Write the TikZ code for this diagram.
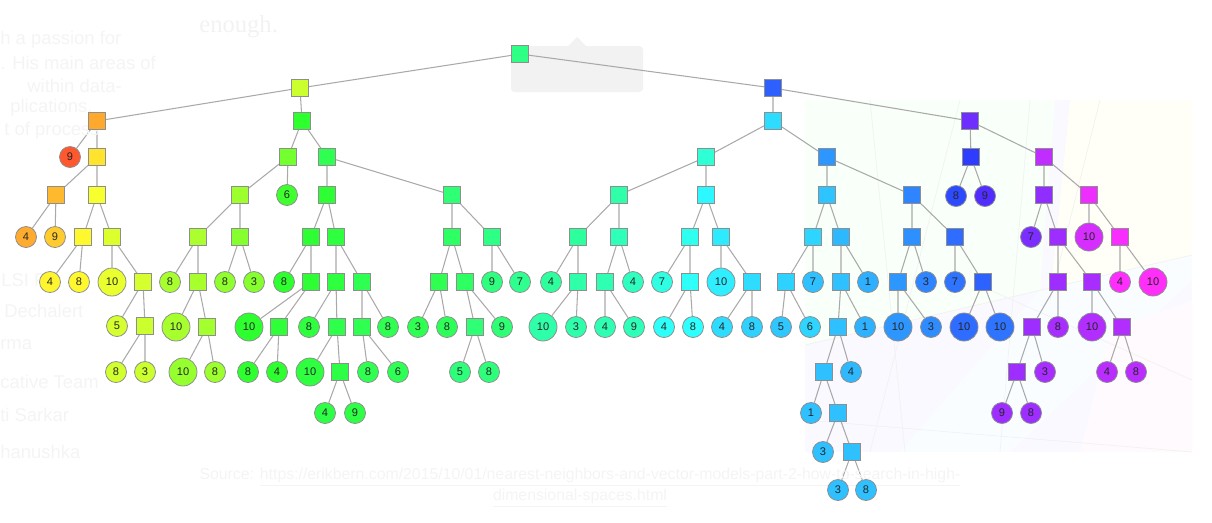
\documentclass[tikz,border=0pt]{standalone}
\usepackage{fontspec}
\setmainfont{Liberation Sans}
\newfontfamily\serifface{Liberation Serif}
\usepackage{xcolor}
\definecolor{edgegray}{HTML}{A9A9A9}
\definecolor{rimgray}{HTML}{8E8E8E}
\definecolor{ghostgray}{HTML}{F4F4F4}
\usetikzlibrary{positioning,backgrounds}

\begin{document}
\begin{tikzpicture}[
  x=0.02cm,y=-0.02cm,
  font=\fontsize{6.3}{7}\selectfont,
  tint/.code={\definecolor{tinth}{Hsb}{#1,0.82,1}\colorlet{tintc}[rgb]{tinth}\pgfkeysalso{fill=tintc}},
  split/.style={draw=rimgray,line width=0.45pt,rectangle,minimum size=0.34cm,inner sep=0pt},
  leaf/.style={draw=rimgray,line width=0.45pt,circle,minimum size=0.42cm,inner sep=0pt,text=black!85},
  big/.style={leaf,minimum size=0.56cm},
  edge/.style={draw=edgegray,line width=0.6pt},
  ghost/.style={text=ghostgray,anchor=west,inner sep=0pt,font=\fontsize{10.5}{12}\selectfont}
]
\useasboundingbox (0,0) rectangle (1212,522);

% faint page behind the tree
\node[ghost] (g1) at (0,40) {h a passion for};
\node[ghost] (g2) at (0,63) {. His main areas of};
\node[ghost] (g3) at (27,86) {within data-};
\node[ghost] (g4) at (10,108) {plications,};
\node[ghost] (g5) at (4,131) {t of process};
\node[ghost] (g6) at (1,280) {LSI FO};
\node[ghost] (g7) at (4,311) {Dechalert};
\node[ghost] (g8) at (0,345) {rma};
\node[ghost] (g9) at (0,382) {cative Team};
\node[ghost] (g10) at (0,415) {ti Sarkar};
\node[ghost] (g11) at (0,452) {hanushka};
\node[ghost,text=black!5,font=\serifface\fontsize{14}{16}\selectfont] (enough) at (199,27) {enough.};
\node[text=ghostgray,font=\fontsize{9}{10}\selectfont,inner sep=0pt] (src1) at (580,477) {Source: \underline{https://erikbern.com/2015/10/01/nearest-neighbors-and-vector-models-part-2-how-to-search-in-high-}};
\node[text=ghostgray,font=\fontsize{9}{10}\selectfont,inner sep=0pt] (src2) at (580,498) {\underline{dimensional-spaces.html}};

% splits
\node[split,tint=145] (s1) at (520,54) {};
\node[split,tint=75] (s2) at (300,88) {};
\node[split,tint=226] (s3) at (773,88) {};
\node[split,tint=35] (s4) at (97,121) {};
\node[split,tint=120] (s5) at (302,121) {};
\node[split,tint=190] (s6) at (773,121) {};
\node[split,tint=258] (s7) at (970,121) {};
\node[split,tint=52] (s8) at (97,157) {};
\node[split,tint=40] (s9) at (56,195) {};
\node[split,tint=62] (s10) at (97,195) {};
\node[split,tint=58] (s11) at (83,237) {};
\node[split,tint=70] (s12) at (112,237) {};
\node[split,tint=72] (s13) at (143,282) {};
\node[split,tint=75] (s14) at (145,326) {};
\node[split,tint=100] (s15) at (288,157) {};
\node[split,tint=130] (s16) at (327,157) {};
\node[split,tint=88] (s17) at (240,195) {};
\node[split,tint=84] (s18) at (198,237) {};
\node[split,tint=95] (s19) at (240,237) {};
\node[split,tint=85] (s20) at (198,282) {};
\node[split,tint=86] (s21) at (207,327) {};
\node[split,tint=122] (s22) at (327,195) {};
\node[split,tint=140] (s23) at (452,195) {};
\node[split,tint=122] (s24) at (311,237) {};
\node[split,tint=125] (s25) at (336,237) {};
\node[split,tint=122] (s26) at (311,282) {};
\node[split,tint=123] (s27) at (279,327) {};
\node[split,tint=125] (s28) at (336,282) {};
\node[split,tint=130] (s29) at (362,282) {};
\node[split,tint=128] (s30) at (337,327) {};
\node[split,tint=127] (s31) at (340,372) {};
\node[split,tint=130] (s32) at (362,327) {};
\node[split,tint=135] (s33) at (452,237) {};
\node[split,tint=145] (s34) at (492,237) {};
\node[split,tint=130] (s35) at (439,282) {};
\node[split,tint=135] (s36) at (465,282) {};
\node[split,tint=140] (s37) at (475,327) {};
\node[split,tint=168] (s38) at (706,157) {};
\node[split,tint=210] (s39) at (827,157) {};
\node[split,tint=155] (s40) at (619,195) {};
\node[split,tint=182] (s41) at (706,195) {};
\node[split,tint=152] (s42) at (578,237) {};
\node[split,tint=160] (s43) at (619,237) {};
\node[split,tint=155] (s44) at (578,282) {};
\node[split,tint=158] (s45) at (605,282) {};
\node[split,tint=175] (s46) at (690,237) {};
\node[split,tint=186] (s47) at (721,237) {};
\node[split,tint=178] (s48) at (690,282) {};
\node[split,tint=190] (s49) at (752,282) {};
\node[split,tint=197] (s50) at (827,195) {};
\node[split,tint=215] (s51) at (912,195) {};
\node[split,tint=192] (s52) at (813,237) {};
\node[split,tint=200] (s53) at (841,237) {};
\node[split,tint=193] (s54) at (786,282) {};
\node[split,tint=198] (s55) at (841,282) {};
\node[split,tint=198] (s56) at (838,327) {};
\node[split,tint=198] (s57) at (824,372) {};
\node[split,tint=198] (s58) at (838,413) {};
\node[split,tint=198] (s59) at (852,452) {};
\node[split,tint=212] (s60) at (912,237) {};
\node[split,tint=222] (s61) at (955,237) {};
\node[split,tint=210] (s62) at (898,282) {};
\node[split,tint=225] (s63) at (983,282) {};
\node[split,tint=236] (s64) at (971,157) {};
\node[split,tint=282] (s65) at (1044,157) {};
\node[split,tint=268] (s66) at (1044,195) {};
\node[split,tint=295] (s67) at (1089,195) {};
\node[split,tint=272] (s68) at (1058,237) {};
\node[split,tint=272] (s69) at (1058,282) {};
\node[split,tint=275] (s70) at (1092,282) {};
\node[split,tint=272] (s71) at (1032,327) {};
\node[split,tint=272] (s72) at (1017,372) {};
\node[split,tint=278] (s73) at (1122,327) {};
\node[split,tint=298] (s74) at (1120,237) {};

% leaves
\node[leaf,tint=12] (l4a) at (70,157) {9};
\node[leaf,tint=36] (l9a) at (26,237) {4};
\node[leaf,tint=45] (l9b) at (55,237) {9};
\node[leaf,tint=57] (l11a) at (50,282) {4};
\node[leaf,tint=58] (l11b) at (79,282) {8};
\node[big,tint=66] (l12a) at (112,282) {10};
\node[leaf,tint=72] (l13a) at (117,326) {5};
\node[leaf,tint=73] (l14a) at (116,372) {8};
\node[leaf,tint=75] (l14b) at (145,372) {3};
\node[leaf,tint=115] (l15a) at (287,195) {6};
\node[leaf,tint=85] (l18a) at (170,282) {8};
\node[big,tint=85] (l20a) at (176,327) {10};
\node[big,tint=90] (l21a) at (183,372) {10};
\node[leaf,tint=88] (l21b) at (215,372) {8};
\node[leaf,tint=92] (l19a) at (225,282) {8};
\node[leaf,tint=95] (l19b) at (254,282) {3};
\node[leaf,tint=120] (l24a) at (284,282) {8};
\node[big,tint=120] (l26a) at (249,327) {10};
\node[leaf,tint=120] (l27a) at (248,372) {8};
\node[leaf,tint=120] (l27b) at (277,372) {4};
\node[leaf,tint=125] (l28a) at (309,327) {8};
\node[big,tint=125] (l30a) at (310,372) {10};
\node[leaf,tint=127] (l31a) at (325,413) {4};
\node[leaf,tint=127] (l31b) at (355,413) {9};
\node[leaf,tint=130] (l29a) at (388,327) {8};
\node[leaf,tint=130] (l32a) at (368,372) {8};
\node[leaf,tint=131] (l32b) at (398,372) {6};
\node[leaf,tint=130] (l35a) at (418,327) {3};
\node[leaf,tint=132] (l35b) at (447,327) {8};
\node[leaf,tint=140] (l36a) at (502,327) {9};
\node[leaf,tint=142] (l37a) at (460,372) {5};
\node[leaf,tint=142] (l37b) at (489,372) {8};
\node[leaf,tint=143] (l34a) at (492,282) {9};
\node[leaf,tint=148] (l34b) at (520,282) {7};
\node[leaf,tint=152] (l42a) at (551,282) {4};
\node[big,tint=155] (l44a) at (543,327) {10};
\node[leaf,tint=156] (l44b) at (576,327) {3};
\node[leaf,tint=162] (l43a) at (633,282) {4};
\node[leaf,tint=158] (l45a) at (605,327) {4};
\node[leaf,tint=160] (l45b) at (634,327) {9};
\node[leaf,tint=172] (l46a) at (662,282) {7};
\node[leaf,tint=178] (l48a) at (664,327) {4};
\node[leaf,tint=180] (l48b) at (693,327) {8};
\node[big,tint=185] (l47a) at (721,282) {10};
\node[leaf,tint=190] (l49a) at (722,327) {4};
\node[leaf,tint=193] (l49b) at (752,327) {8};
\node[leaf,tint=198] (l52a) at (813,282) {7};
\node[leaf,tint=196] (l54a) at (781,327) {5};
\node[leaf,tint=192] (l54b) at (810,327) {6};
\node[leaf,tint=203] (l53a) at (868,282) {1};
\node[leaf,tint=202] (l55a) at (865,327) {1};
\node[leaf,tint=200] (l56a) at (851,372) {4};
\node[leaf,tint=198] (l57a) at (811,413) {1};
\node[leaf,tint=198] (l58a) at (823,452) {3};
\node[leaf,tint=198] (l59a) at (838,490) {3};
\node[leaf,tint=198] (l59b) at (866,490) {8};
\node[leaf,tint=215] (l60a) at (926,282) {3};
\node[big,tint=210] (l62a) at (898,327) {10};
\node[leaf,tint=213] (l62b) at (931,327) {3};
\node[leaf,tint=220] (l61a) at (955,282) {7};
\node[big,tint=222] (l63a) at (964,327) {10};
\node[big,tint=220] (l63b) at (1000,327) {10};
\node[leaf,tint=232] (l64a) at (956,196) {8};
\node[leaf,tint=250] (l64b) at (985,196) {9};
\node[leaf,tint=262] (l66a) at (1031,237) {7};
\node[leaf,tint=275] (l69a) at (1058,327) {8};
\node[leaf,tint=275] (l71a) at (1045,372) {3};
\node[leaf,tint=272] (l72a) at (1002,413) {9};
\node[leaf,tint=272] (l72b) at (1031,413) {8};
\node[big,tint=278] (l70a) at (1092,327) {10};
\node[leaf,tint=280] (l73a) at (1107,372) {4};
\node[leaf,tint=280] (l73b) at (1136,372) {8};
\node[big,tint=288] (l67a) at (1089,237) {10};
\node[leaf,tint=300] (l74a) at (1120,282) {4};
\node[big,tint=302] (l74b) at (1153,282) {10};

\begin{scope}[on background layer]
% pale plane partition behind the right branch
\fill[blue!2.5] (805,100) rectangle (1192,452);
\fill[green!2.5] (805,100) -- (1055,100) -- (1040,290) -- (805,345) -- cycle;
\fill[yellow!3] (1070,100) -- (1192,100) -- (1192,255) -- (1050,300) -- cycle;
\fill[cyan!2] (1040,290) -- (1192,255) -- (1192,280) -- (1010,452) -- (900,452) -- cycle;
\fill[magenta!2] (1110,330) -- (1192,300) -- (1192,452) -- (1080,452) -- cycle;
\draw[black!5,line width=0.4pt] (870,100) -- (905,452) (960,100) -- (870,452) (1030,100) -- (1000,452)
  (805,345) -- (1192,255) (1100,100) -- (1050,300) (1192,380) -- (990,290) (805,420) -- (1192,452);
\fill[black!5,rounded corners=2pt] (511,46) rectangle (643,92);
\fill[black!5] (568,46) -- (577,37) -- (586,46) -- cycle;

\draw[edge] (s1) -- (s2) (s1) -- (s3);
\draw[edge] (s2) -- (s4) (s2) -- (s5);
\draw[edge] (s3) -- (s6) (s3) -- (s7);
\draw[edge] (s4) -- (l4a) (s4) -- (s8);
\draw[edge] (s8) -- (s9) (s8) -- (s10);
\draw[edge] (s9) -- (l9a) (s9) -- (l9b);
\draw[edge] (s10) -- (s11) (s10) -- (s12);
\draw[edge] (s11) -- (l11a) (s11) -- (l11b);
\draw[edge] (s12) -- (l12a) (s12) -- (s13);
\draw[edge] (s13) -- (l13a) (s13) -- (s14);
\draw[edge] (s14) -- (l14a) (s14) -- (l14b);
\draw[edge] (s5) -- (s15) (s5) -- (s16);
\draw[edge] (s15) -- (s17) (s15) -- (l15a);
\draw[edge] (s17) -- (s18) (s17) -- (s19);
\draw[edge] (s18) -- (l18a) (s18) -- (s20);
\draw[edge] (s20) -- (l20a) (s20) -- (s21);
\draw[edge] (s21) -- (l21a) (s21) -- (l21b);
\draw[edge] (s19) -- (l19a) (s19) -- (l19b);
\draw[edge] (s16) -- (s22) (s16) -- (s23);
\draw[edge] (s22) -- (s24) (s22) -- (s25);
\draw[edge] (s24) -- (l24a) (s24) -- (s26);
\draw[edge] (s26) -- (l26a) (s26) -- (s27);
\draw[edge] (s27) -- (l27a) (s27) -- (l27b);
\draw[edge] (s25) -- (s28) (s25) -- (s29);
\draw[edge] (s28) -- (l28a) (s28) -- (s30);
\draw[edge] (s30) -- (l30a) (s30) -- (s31);
\draw[edge] (s31) -- (l31a) (s31) -- (l31b);
\draw[edge] (s29) -- (s32) (s29) -- (l29a);
\draw[edge] (s32) -- (l32a) (s32) -- (l32b);
\draw[edge] (s23) -- (s33) (s23) -- (s34);
\draw[edge] (s33) -- (s35) (s33) -- (s36);
\draw[edge] (s35) -- (l35a) (s35) -- (l35b);
\draw[edge] (s36) -- (s37) (s36) -- (l36a);
\draw[edge] (s37) -- (l37a) (s37) -- (l37b);
\draw[edge] (s34) -- (l34a) (s34) -- (l34b);
\draw[edge] (s6) -- (s38) (s6) -- (s39);
\draw[edge] (s38) -- (s40) (s38) -- (s41);
\draw[edge] (s40) -- (s42) (s40) -- (s43);
\draw[edge] (s42) -- (l42a) (s42) -- (s44);
\draw[edge] (s44) -- (l44a) (s44) -- (l44b);
\draw[edge] (s43) -- (s45) (s43) -- (l43a);
\draw[edge] (s45) -- (l45a) (s45) -- (l45b);
\draw[edge] (s41) -- (s46) (s41) -- (s47);
\draw[edge] (s46) -- (l46a) (s46) -- (s48);
\draw[edge] (s48) -- (l48a) (s48) -- (l48b);
\draw[edge] (s47) -- (l47a) (s47) -- (s49);
\draw[edge] (s49) -- (l49a) (s49) -- (l49b);
\draw[edge] (s39) -- (s50) (s39) -- (s51);
\draw[edge] (s50) -- (s52) (s50) -- (s53);
\draw[edge] (s52) -- (s54) (s52) -- (l52a);
\draw[edge] (s54) -- (l54a) (s54) -- (l54b);
\draw[edge] (s53) -- (s55) (s53) -- (l53a);
\draw[edge] (s55) -- (s56) (s55) -- (l55a);
\draw[edge] (s56) -- (s57) (s56) -- (l56a);
\draw[edge] (s57) -- (l57a) (s57) -- (s58);
\draw[edge] (s58) -- (l58a) (s58) -- (s59);
\draw[edge] (s59) -- (l59a) (s59) -- (l59b);
\draw[edge] (s51) -- (s60) (s51) -- (s61);
\draw[edge] (s60) -- (s62) (s60) -- (l60a);
\draw[edge] (s62) -- (l62a) (s62) -- (l62b);
\draw[edge] (s61) -- (l61a) (s61) -- (s63);
\draw[edge] (s63) -- (l63a) (s63) -- (l63b);
\draw[edge] (s7) -- (s64) (s7) -- (s65);
\draw[edge] (s64) -- (l64a) (s64) -- (l64b);
\draw[edge] (s65) -- (s66) (s65) -- (s67);
\draw[edge] (s66) -- (l66a) (s66) -- (s68);
\draw[edge] (s68) -- (s69) (s68) -- (s70);
\draw[edge] (s69) -- (s71) (s69) -- (l69a);
\draw[edge] (s71) -- (s72) (s71) -- (l71a);
\draw[edge] (s72) -- (l72a) (s72) -- (l72b);
\draw[edge] (s70) -- (l70a) (s70) -- (s73);
\draw[edge] (s73) -- (l73a) (s73) -- (l73b);
\draw[edge] (s67) -- (l67a) (s67) -- (s74);
\draw[edge] (s74) -- (l74a) (s74) -- (l74b);
\end{scope}
\end{tikzpicture}
\end{document}
